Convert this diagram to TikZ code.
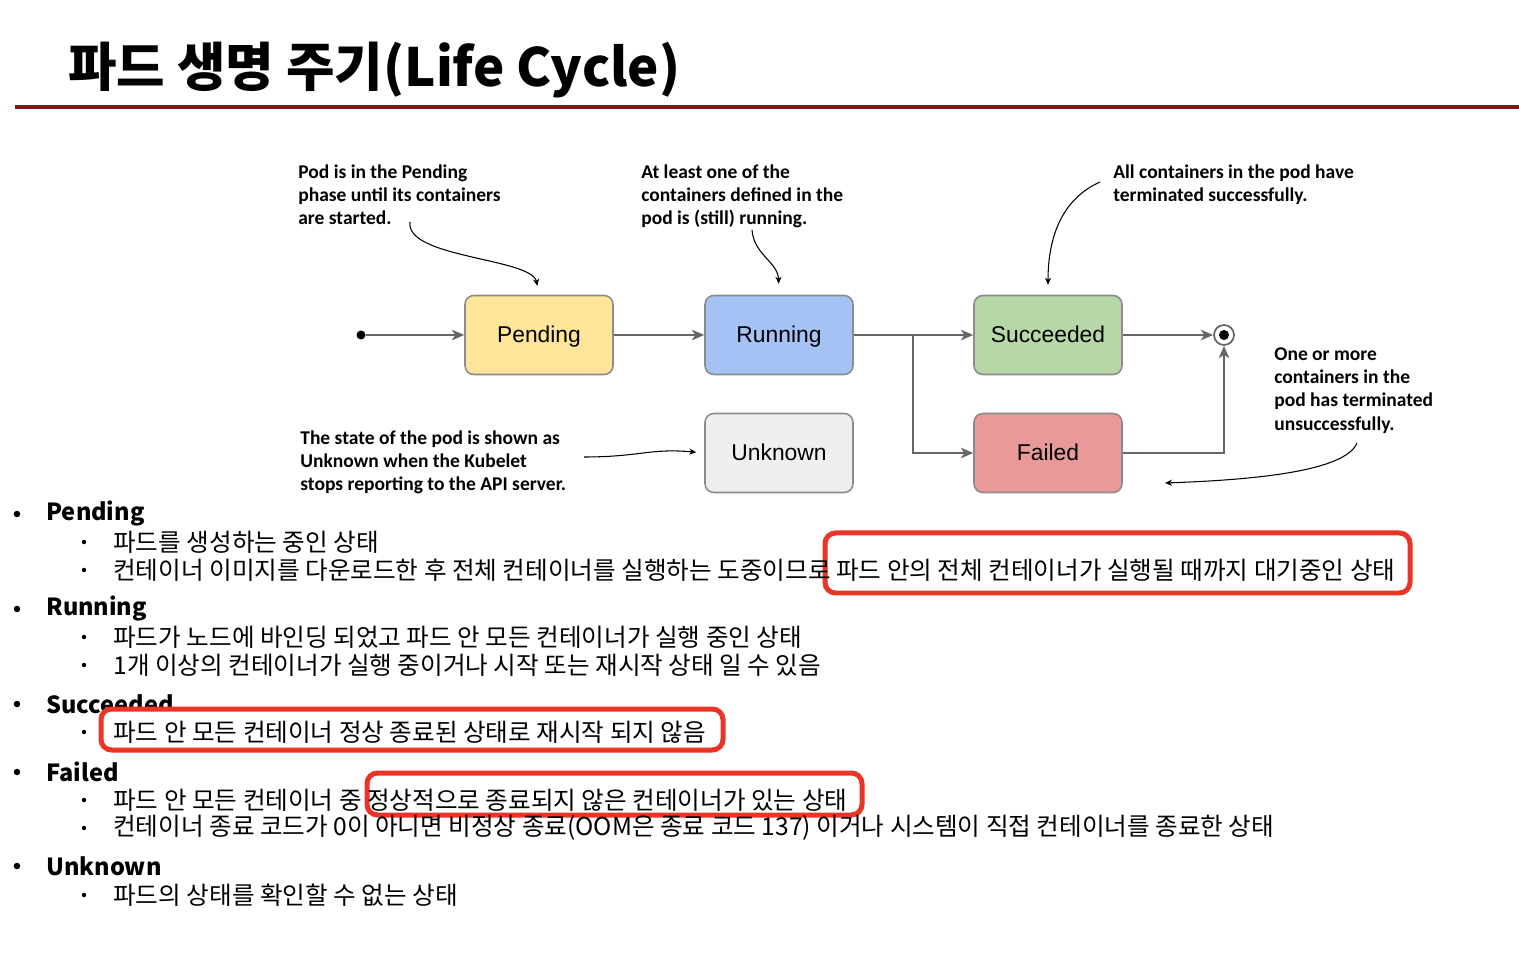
\documentclass[tikz,border=0pt]{standalone}
\usepackage{fontspec}
\setmainfont{Noto Sans CJK KR}
\newfontfamily\notefont{Carlito}
\newfontfamily\statefont{Liberation Sans}
\usetikzlibrary{arrows.meta,positioning}

\definecolor{rulered}{RGB}{128,26,20}
\definecolor{markred}{RGB}{233,52,38}
\definecolor{pendingfill}{RGB}{255,229,153}
\definecolor{runningfill}{RGB}{164,194,244}
\definecolor{succeededfill}{RGB}{182,215,168}
\definecolor{failedfill}{RGB}{234,153,153}
\definecolor{unknownfill}{RGB}{239,239,239}

\begin{document}
\begin{tikzpicture}[
    x=0.02cm, y=-0.02cm,
    every node/.style={inner sep=0pt},
    pagetitle/.style={font=\bfseries\fontsize{30}{36}\selectfont, anchor=west},
    podstate/.style={draw=black!45, line width=0.9pt, rounded corners=5pt,
      minimum width=2.96cm, minimum height=1.58cm, text height=0.88em, text depth=0pt,
      font=\statefont\fontsize{13}{15}\selectfont},
    flow/.style={draw=black!60, line width=1.2pt, -{Stealth[length=7pt,width=6pt,inset=2pt]}},
    note/.style={font=\notefont\bfseries\fontsize{11.1}{13.3}\selectfont, align=left, anchor=north west},
    pointer/.style={black, line width=0.6pt, -{Stealth[length=4pt,width=3.5pt]}},
    heading/.style={font=\bfseries\fontsize{13.4}{16}\selectfont, anchor=west},
    subline/.style={font=\fontsize{14}{17}\selectfont, anchor=west},
    bigdot/.style={circle, fill, minimum size=0.13cm},
    smalldot/.style={circle, fill, minimum size=0.09cm},
    markbox/.style={draw=markred, line width=0.1cm, rounded corners=6pt, fill=white}
]
\useasboundingbox[fill=white] (0,0) rectangle (1519,959);

% title
\node[pagetitle] (title) at (68,70) {파드 생명 주기(Life Cycle)};
\draw[rulered, line width=0.08cm] (15,107) -- (1519,107);

% states
\node[circle, fill, minimum size=0.18cm] (start) at (361,335) {};
\node[podstate, fill=pendingfill] (pending) at (539,335) {Pending};
\node[podstate, fill=runningfill] (running) at (779,335) {Running};
\node[podstate, fill=succeededfill] (succeeded) at (1048,335) {Succeeded};
\node[podstate, fill=failedfill] (failed) at (1048,453) {Failed};
\node[podstate, fill=unknownfill] (unknown) at (779,453) {Unknown};
\node[circle, draw=black!60, line width=1pt, minimum size=0.4cm] (stop) at (1224,335) {};
\fill (stop) circle (0.1cm);
\coordinate (split) at (913,335);

\draw[flow] (start) -- (pending);
\draw[flow] (pending) -- (running);
\draw[flow] (running) -- (succeeded);
\draw[flow] (split) |- (failed);
\draw[flow] (succeeded) -- (stop);
\draw[flow] (failed) -| (stop);

% notes
\node[note] (note-pending) at (298,164) {Pod is in the Pending\\phase until its containers\\are started.};
\node[note] (note-running) at (641,164) {At least one of the\\containers defined in the\\pod is (still) running.};
\node[note] (note-succeeded) at (1113,164) {All containers in the pod have\\terminated successfully.};
\node[note] (note-failed) at (1274,347) {One or more\\containers in the\\pod has terminated\\unsuccessfully.};
\node[note] (note-unknown) at (300,430) {The state of the pod is shown as\\Unknown when the Kubelet\\stops reporting to the API server.};

\coordinate (cue-pending) at (410,222);
\coordinate (cue-running) at (752,230);
\coordinate (cue-succeeded) at (1100,182);
\coordinate (cue-failed) at (1357,443);
\coordinate (cue-unknown) at (584,457);
\coordinate (tip-failed) at (1165,483);

\draw[pointer, shorten >=0.18cm] (cue-pending) .. controls (405,258) and (532,258) .. (pending.north);
\draw[pointer, shorten >=0.22cm] (cue-running) .. controls (754,255) and (778,262) .. (running.north);
\draw[pointer, shorten >=0.2cm] (cue-succeeded) .. controls (1060,200) and (1048,240) .. (succeeded.north);
\draw[pointer] (cue-failed) .. controls (1345,472) and (1250,480) .. (tip-failed);
\draw[pointer, shorten >=0.16cm] (cue-unknown) .. controls (640,457) and (650,448) .. (unknown.west);

% phase list
\foreach \name/\y in {Pending/514, Running/609, Succeeded/704, Failed/772, Unknown/866} {
  \node[bigdot] (dot-\name) at (17,\y) {};
  \node[heading] (head-\name) at (46,\y) {\name};
}

\draw[markbox] (825,533) rectangle (1410,593);
\draw[markbox] (101,709) rectangle (723,750);
\draw[markbox] (367,773) rectangle (862,815);

\foreach \y/\txt [count=\i] in {%
  542/{파드를 생성하는 중인 상태},
  570/{컨테이너 이미지를 다운로드한 후 전체 컨테이너를 실행하는 도중이므로 파드 안의 전체 컨테이너가 실행될 때까지 대기중인 상태},
  637/{파드가 노드에 바인딩 되었고 파드 안 모든 컨테이너가 실행 중인 상태},
  665/{1개 이상의 컨테이너가 실행 중이거나 시작 또는 재시작 상태 일 수 있음},
  732/{파드 안 모든 컨테이너 정상 종료된 상태로 재시작 되지 않음},
  800/{파드 안 모든 컨테이너 중 정상적으로 종료되지 않은 컨테이너가 있는 상태},
  828/{컨테이너 종료 코드가 0이 아니면 비정상 종료(OOM은 종료 코드 137) 이거나 시스템이 직접 컨테이너를 종료한 상태},
  895/{파드의 상태를 확인할 수 없는 상태}} {
  \node[smalldot] (sdot\i) at (84,\y) {};
  \node[subline] (sub\i) at (113,\y) {\txt};
}

\end{tikzpicture}
\end{document}
